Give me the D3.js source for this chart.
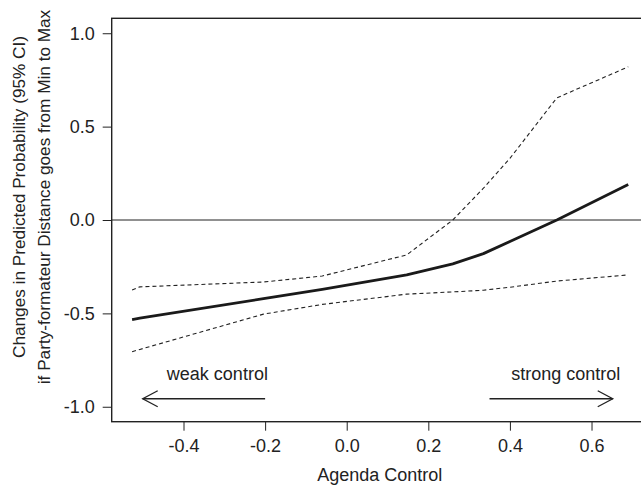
<!DOCTYPE html>
<html lang="en">

<head>
  <meta charset="utf-8">
  <title>Agenda Control</title>
  <script src="https://cdn.jsdelivr.net/npm/d3@7/dist/d3.min.js"></script>
  <style>
    body { margin: 0; background: #fff; }
    text { font-family: "Liberation Sans", Arial, sans-serif; fill: #222; }
  </style>
</head>

<body>
  <script>
    // agenda control values where the estimates were read
    var agenda = [-0.526, -0.507, -0.204, -0.06, 0.147, 0.26, 0.335, 0.40, 0.515, 0.69];
    var estimate = [-0.533, -0.526, -0.421, -0.372, -0.294, -0.235, -0.180, -0.115, 0.0, 0.19];
    var upperCI = [-0.375, -0.358, -0.332, -0.30, -0.187, 0.0, 0.17, 0.33, 0.654, 0.82];
    var lowerCI = [-0.705, -0.693, -0.504, -0.452, -0.397, -0.385, -0.376, -0.36, -0.327, -0.294];
    var xTicks = [-0.4, -0.2, 0.0, 0.2, 0.4, 0.6];
    var yTicks = [-1.0, -0.5, 0.0, 0.5, 1.0];

    var w = 641;
    var h = 487;
    var margin = { top: 18.3, left: 111.7, right: -26, bottom: 65.3 };
    var width = w - margin.left - margin.right;
    var height = h - margin.top - margin.bottom;

    var x = d3.scaleLinear()
      .domain([-0.576, 0.785])
      .range([0, width]);
    var y = d3.scaleLinear()
      .domain([-1.08, 1.08])
      .range([height, 0]);

    var svg = d3.select("body").append("svg")
      .attr("width", w)
      .attr("height", h);
    var g = svg.append("g")
      .attr("transform", "translate(" + margin.left + "," + margin.top + ")");

    var fmt = function (d) { return d.toFixed(1); };

    // axes
    var xAxis = g.append("g")
      .attr("transform", "translate(0," + height + ")")
      .call(d3.axisBottom(x).tickValues(xTicks).tickSize(9).tickPadding(9).tickFormat(fmt));
    var yAxis = g.append("g")
      .call(d3.axisLeft(y).tickValues(yTicks).tickSize(9).tickPadding(8).tickFormat(fmt));
    [xAxis, yAxis].forEach(function (a) {
      a.select(".domain").remove();
      a.selectAll("line").attr("stroke", "#222").attr("stroke-width", 1);
      a.selectAll("text").style("font-size", "18px").attr("fill", "#222");
    });

    // box
    g.append("rect")
      .attr("width", width)
      .attr("height", height)
      .attr("fill", "none")
      .attr("stroke", "#222")
      .attr("stroke-width", 1.4);

    // zero reference line
    g.append("line")
      .attr("x1", 0).attr("x2", width)
      .attr("y1", y(0)).attr("y2", y(0))
      .attr("stroke", "#222")
      .attr("stroke-width", 1);

    function series(vals) {
      return agenda.map(function (a, i) { return [a, vals[i]]; });
    }
    var line = d3.line()
      .x(function (d) { return x(d[0]); })
      .y(function (d) { return y(d[1]); });

    [upperCI, lowerCI].forEach(function (vals) {
      g.append("path")
        .attr("d", line(series(vals)))
        .attr("fill", "none")
        .attr("stroke", "#222")
        .attr("stroke-width", 1.1)
        .attr("stroke-dasharray", "4,3");
    });
    g.append("path")
      .attr("d", line(series(estimate)))
      .attr("fill", "none")
      .attr("stroke", "#1a1a1a")
      .attr("stroke-width", 2.8)
      .attr("stroke-linejoin", "round");

    // direction arrows
    function arrow(x1, x2, yy) {
      var dir = x2 > x1 ? 1 : -1;
      var ay = y(yy);
      g.append("line")
        .attr("x1", x(x1)).attr("x2", x(x2))
        .attr("y1", ay).attr("y2", ay)
        .attr("stroke", "#222").attr("stroke-width", 1.3);
      g.append("path")
        .attr("d", "M" + (x(x2) - dir * 15) + "," + (ay - 8) + "L" + x(x2) + "," + ay +
          "L" + (x(x2) - dir * 15) + "," + (ay + 8))
        .attr("fill", "none")
        .attr("stroke", "#222").attr("stroke-width", 1.3);
    }
    arrow(-0.200, -0.500, -0.957);
    arrow(0.350, 0.652, -0.957);

    g.append("text")
      .attr("x", x(-0.317)).attr("y", y(-0.856))
      .attr("text-anchor", "middle")
      .style("font-size", "18px")
      .text("weak control");
    g.append("text")
      .attr("x", x(0.537)).attr("y", y(-0.856))
      .attr("text-anchor", "middle")
      .style("font-size", "18px")
      .text("strong control");

    // axis titles
    svg.append("text")
      .attr("x", 379.7).attr("y", 481)
      .attr("text-anchor", "middle")
      .style("font-size", "18px")
      .text("Agenda Control");
    svg.append("text")
      .attr("transform", "translate(25,197) rotate(-90)")
      .attr("text-anchor", "middle")
      .style("font-size", "17.2px")
      .text("Changes in Predicted Probability (95% CI)");
    svg.append("text")
      .attr("transform", "translate(50,197) rotate(-90)")
      .attr("text-anchor", "middle")
      .style("font-size", "17.2px")
      .text("if Party-formateur Distance goes from Min to Max");
  </script>
</body>

</html>
